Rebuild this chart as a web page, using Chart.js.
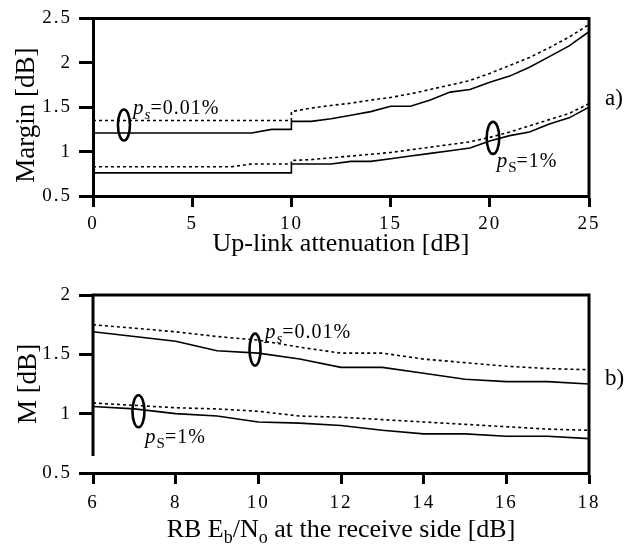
<!DOCTYPE html>
<html>
<head>
<meta charset="utf-8">
<script src="https://cdn.jsdelivr.net/npm/chart.js@4.4.1/dist/chart.umd.min.js"></script>
<style>
  html, body { margin:0; padding:0; background:#fff; }
  #wrap { position:relative; width:628px; height:544px; background:#fff; }
  canvas { position:absolute; left:0; }
  #c1 { top:0; }
  #c2 { top:270px; }
</style>
</head>
<body>
<div id="wrap">
  <canvas id="c1" width="628" height="270"></canvas>
  <canvas id="c2" width="628" height="274"></canvas>
</div>
<script>
// ---------- DATA: panel a) ----------
const topX = [0,1,2,3,4,5,6,7,8,9,10,10,11,12,13,14,15,16,17,18,19,20,21,22,23,24,25];
const topSolid001 = [1.21,1.21,1.21,1.21,1.21,1.21,1.21,1.21,1.21,1.25,1.25,
                     1.34,1.34,1.37,1.41,1.45,1.51,1.51,1.58,1.67,1.70,1.78,1.85,1.95,2.07,2.19,2.35];
const topDot001   = [1.35,1.35,1.35,1.35,1.35,1.35,1.35,1.35,1.35,1.35,1.35,
                     1.45,1.49,1.52,1.545,1.58,1.61,1.65,1.70,1.75,1.80,1.88,1.97,2.06,2.17,2.29,2.43];
const topSolid1   = [0.76,0.76,0.76,0.76,0.76,0.76,0.76,0.76,0.76,0.76,0.76,
                     0.86,0.86,0.86,0.89,0.89,0.92,0.95,0.98,1.01,1.04,1.12,1.18,1.22,1.31,1.38,1.50];
const topDot1     = [0.83,0.83,0.83,0.83,0.83,0.83,0.83,0.83,0.86,0.86,0.86,
                     0.90,0.91,0.93,0.95,0.97,0.99,1.02,1.05,1.08,1.11,1.16,1.22,1.29,1.36,1.43,1.54];
const topXTicks = [0,5,10,15,20,25];
const topYTicks = [0.5,1,1.5,2,2.5];

// ---------- DATA: panel b) ----------
const botX = [6,7,8,9,10,11,12,13,14,15,16,17,18];
const botSolid001 = [1.69,1.65,1.61,1.53,1.51,1.46,1.39,1.39,1.34,1.29,1.27,1.27,1.25];
const botDot001   = [1.75,1.72,1.69,1.65,1.62,1.56,1.51,1.51,1.46,1.43,1.40,1.38,1.37];
const botSolid1   = [1.06,1.04,1.00,0.98,0.93,0.92,0.90,0.86,0.83,0.83,0.81,0.81,0.79];
const botDot1     = [1.09,1.07,1.05,1.04,1.02,0.98,0.97,0.95,0.93,0.91,0.89,0.87,0.86];
const botXTicks = [6,8,10,12,14,16,18];
const botYTicks = [0.5,1,1.5,2];

const SERIF = '"Liberation Serif", "Times New Roman", serif';

function pts(xs, ys){ return xs.map((x,i)=>({x:x, y:ys[i]})); }
function ds(xs, ys, dotted){
  return { data: pts(xs, ys), borderColor:'#000', borderWidth:1.6, pointRadius:0,
           fill:false, tension:0, borderDash: dotted ? [3,3] : [] };
}

function drawPs(ctx, px, py, sub, subItalic, rest){
  ctx.save();
  ctx.fillStyle = '#000';
  ctx.textBaseline = 'alphabetic';
  ctx.textAlign = 'left';
  ctx.letterSpacing = '0px';
  ctx.font = 'italic 21px ' + SERIF;
  ctx.fillText('p', px, py);
  let w = ctx.measureText('p').width + 1;
  ctx.font = (subItalic ? 'italic ' : '') + '15px ' + SERIF;
  ctx.fillText(sub, px + w, py + 5);
  w += ctx.measureText(sub).width;
  ctx.font = '20px ' + SERIF;
  ctx.letterSpacing = '1px';
  ctx.fillText(rest, px + w, py);
  ctx.restore();
}

const annotPlugin = {
  id: 'annot',
  beforeDraw(chart){ chart.ctx.letterSpacing = '2px'; },
  beforeDatasetsDraw(chart){ chart.ctx.letterSpacing = '0px'; },
  afterDraw(chart, args, o){
    const ctx = chart.ctx, a = chart.chartArea;
    const xs = chart.scales.x, ys = chart.scales.y;
    ctx.save();
    ctx.letterSpacing = '0px';
    ctx.strokeStyle = '#000';
    ctx.lineWidth = 3;
    ctx.beginPath();
    ctx.moveTo(a.left - 1.5, a.top); ctx.lineTo(a.right, a.top);
    ctx.moveTo(a.right, a.top - 1.5); ctx.lineTo(a.right, a.bottom + 1.5);
    if (o.leftGap) {
      ctx.moveTo(a.left, a.top - 1.5); ctx.lineTo(a.left, a.bottom - o.leftGap);
    }
    ctx.stroke();

    // ellipses
    ctx.lineWidth = 2.6;
    (o.ellipses || []).forEach(e => {
      ctx.beginPath();
      ctx.ellipse(xs.getPixelForValue(e.x), ys.getPixelForValue(e.y), e.rx, e.ry, 0, 0, Math.PI*2);
      ctx.stroke();
    });
    // p_s labels
    (o.labels || []).forEach(l => {
      drawPs(ctx, xs.getPixelForValue(l.x), ys.getPixelForValue(l.y), l.sub, l.subItalic, l.rest);
    });
    // panel tag
    ctx.fillStyle = '#000';
    ctx.font = '23px ' + SERIF;
    ctx.textAlign = 'left';
    ctx.textBaseline = 'alphabetic';
    ctx.fillText(o.tag, a.right + 16, ys.getPixelForValue(o.tagY));

    // axis titles
    ctx.font = '27px ' + SERIF;
    ctx.save();
    ctx.translate(o.yTitleX, (a.top + a.bottom)/2 + o.yTitleDy);
    ctx.rotate(-Math.PI/2);
    ctx.textAlign = 'center';
    ctx.fillText(o.yTitle, 0, 0);
    ctx.restore();

    if (o.xTitleParts) {
      let total = 0;
      o.xTitleParts.forEach(p => {
        ctx.font = (p.sub ? '18px ' : '26px ') + SERIF;
        total += ctx.measureText(p.t).width;
      });
      let x = (a.left + a.right)/2 - total/2;
      ctx.textAlign = 'left';
      o.xTitleParts.forEach(p => {
        ctx.font = (p.sub ? '18px ' : '26px ') + SERIF;
        ctx.fillText(p.t, x, o.xTitleY + (p.sub ? 6 : 0));
        x += ctx.measureText(p.t).width;
      });
    }
    ctx.restore();
  }
};

function makeOptions(xmin, xmax, ymin, ymax, xTicks, yTicks, padTop, xHeight, xPad, plug){
  const tickFont = { family: SERIF, size: 19 };
  const fmt = v => String(Math.round(v * 100) / 100);
  return {
    responsive:false, animation:false, devicePixelRatio:1,
    layout:{ padding:{ top:padTop, right:39, left:0, bottom:0 } },
    plugins:{ legend:{display:false}, tooltip:{enabled:false}, annot: plug },
    scales:{
      x:{ type:'linear', min:xmin, max:xmax,
          afterBuildTicks: s => { s.ticks = xTicks.map(v => ({value:v})); },
          ticks:{ font:tickFont, color:'#000', padding:xPad, maxRotation:0, autoSkip:false, callback: fmt },
          grid:{ drawOnChartArea:false, drawTicks:true, tickLength:11, tickWidth:3, tickColor:'#000' },
          border:{ display:true, width:3, color:'#000' },
          afterFit: s => { s.height = xHeight; } },
      y:{ type:'linear', min:ymin, max:ymax,
          afterBuildTicks: s => { s.ticks = yTicks.map(v => ({value:v})); },
          ticks:{ font:tickFont, color:'#000', padding:7, callback: fmt },
          grid:{ drawOnChartArea:false, drawTicks:true, tickLength:14, tickWidth:3, tickColor:'#000' },
          border:{ display: !plug.leftGap, width:3, color:'#000' },
          afterFit: s => { s.width = 93; } }
    }
  };
}

new Chart(document.getElementById('c1'), {
  type:'line',
  data:{ datasets:[ ds(topX, topSolid001, false), ds(topX, topDot001, true),
                    ds(topX, topSolid1, false), ds(topX, topDot1, true) ] },
  options: makeOptions(0, 25, 0.5, 2.5, topXTicks, topYTicks, 18, 74, 6, {
    ellipses:[ {x:1.56, y:1.30, rx:6, ry:15.5}, {x:20.16, y:1.155, rx:6.3, ry:16} ],
    labels:[ {x:2.02, y:1.42, sub:'s', subItalic:true, rest:'=0.01%'},
             {x:20.35, y:0.83, sub:'S', subItalic:false, rest:'=1%'} ],
    tag:'a)', tagY:1.52,
    yTitle:'Margin [dB]', yTitleX:34, yTitleDy:8,
    xTitleParts:[ {t:'Up-link attenuation [dB]'} ], xTitleY:251
  }),
  plugins:[annotPlugin]
});

new Chart(document.getElementById('c2'), {
  type:'line',
  data:{ datasets:[ ds(botX, botSolid001, false), ds(botX, botDot001, true),
                    ds(botX, botSolid1, false), ds(botX, botDot1, true) ] },
  options: makeOptions(6, 18, 0.5, 2, botXTicks, botYTicks, 25, 71, 8, {
    leftGap: 17,
    ellipses:[ {x:9.92, y:1.54, rx:5.5, ry:16}, {x:7.10, y:1.02, rx:6, ry:16} ],
    labels:[ {x:10.16, y:1.64, sub:'s', subItalic:true, rest:'=0.01%'},
             {x:7.26, y:0.75, sub:'S', subItalic:false, rest:'=1%'} ],
    tag:'b)', tagY:1.24,
    yTitle:'M [dB]', yTitleX:36, yTitleDy:0,
    xTitleParts:[ {t:'RB E'}, {t:'b', sub:true}, {t:'/N'}, {t:'o', sub:true}, {t:' at the receive side [dB]'} ],
    xTitleY:267
  }),
  plugins:[annotPlugin]
});
</script>
</body>
</html>
